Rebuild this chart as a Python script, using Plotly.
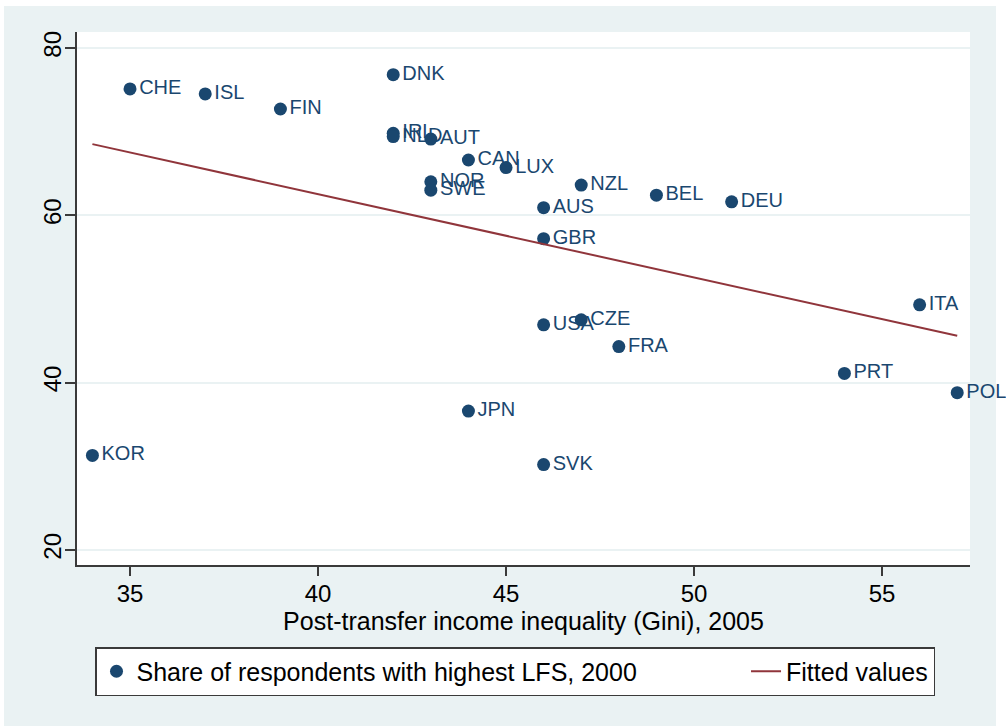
import plotly.graph_objects as go

# Data
countries = ["CHE", "ISL", "FIN", "DNK", "IRL", "NLD", "AUT", "CAN", "LUX", "NOR",
             "SWE", "NZL", "BEL", "DEU", "AUS", "GBR", "ITA", "USA", "CZE", "FRA",
             "PRT", "POL", "JPN", "KOR", "SVK"]
gini = [35, 37, 39, 42, 42, 42, 43, 44, 45, 43,
        43, 47, 49, 51, 46, 46, 56, 46, 47, 48,
        54, 57, 44, 34, 46]
lfs_share = [75.1, 74.5, 72.7, 76.8, 69.8, 69.4, 69.1, 66.6, 65.7, 64.0,
             63.0, 63.6, 62.4, 61.6, 60.9, 57.2, 49.3, 46.9, 47.5, 44.3,
             41.1, 38.8, 36.6, 31.3, 30.2]
fit_x = [34, 57]
fit_y = [68.5, 45.6]

x_ticks = [35, 40, 45, 50, 55]
y_ticks = [20, 40, 60, 80]

NAVY = "#1a476f"
MAROON = "#90353b"
BG = "#eaf2f3"
AXIS = "#3a3a3a"

W, H = 1006, 726
ML, MR, MT, MB = 77, 36, 32, 161
PW = W - ML - MR
PH = H - MT - MB

PAD = "\u00a0" * 15

fig = go.Figure()

fig.add_trace(go.Scatter(
    x=gini, y=lfs_share, mode="markers",
    marker=dict(color=NAVY, size=13),
    name="Share of respondents with highest LFS, 2000" + PAD,
    cliponaxis=False,
))
fig.add_trace(go.Scatter(
    x=fit_x, y=fit_y, mode="lines",
    line=dict(color=MAROON, width=2),
    name="Fitted values",
))
fig.add_trace(go.Scatter(
    x=gini, y=lfs_share, mode="markers+text",
    marker=dict(color="rgba(0,0,0,0)", size=13),
    text=countries, textposition="middle right",
    textfont=dict(color=NAVY, size=20, family="Liberation Sans, Arial, sans-serif"),
    showlegend=False, hoverinfo="skip", cliponaxis=False,
))


def px_to_paper_x(px):
    return (px - ML) / PW


def px_to_paper_y(py):
    return (H - MB - py) / PH


shapes = []
for (x0, x1, y0, y1) in [(0, 4, 0, H), (996, W, 0, H), (0, W, 0, 6)]:
    shapes.append(dict(
        type="rect", xref="paper", yref="paper",
        x0=px_to_paper_x(x0), x1=px_to_paper_x(x1),
        y0=px_to_paper_y(y1), y1=px_to_paper_y(y0),
        fillcolor="white", line=dict(width=0), layer="below",
    ))

fig.update_layout(
    width=W, height=H,
    margin=dict(l=ML, r=MR, t=MT, b=MB, pad=0, autoexpand=False),
    paper_bgcolor=BG, plot_bgcolor="white",
    font=dict(family="Liberation Sans, Arial, sans-serif", color="black"),
    shapes=shapes,
    showlegend=True,
    legend=dict(
        orientation="h",
        x=px_to_paper_x(95), xanchor="left",
        y=px_to_paper_y(647), yanchor="top",
        bgcolor="white", bordercolor=AXIS, borderwidth=1.5,
        font=dict(size=25, color="black"),
        traceorder="normal",
    ),
    xaxis=dict(
        range=[33.59, 57.34], tickvals=x_ticks, automargin=False,
        showgrid=False, zeroline=False,
        showline=True, linecolor=AXIS, linewidth=1.5,
        ticks="outside", ticklen=9, tickwidth=1.5, tickcolor=AXIS,
        tickfont=dict(size=24, color="black"),
        ticklabelstandoff=-3,
        title=dict(text="Post-transfer income inequality (Gini), 2005",
                   font=dict(size=25, color="black"), standoff=2),
    ),
    yaxis=dict(
        range=[18.2, 81.9], tickvals=y_ticks, automargin=False,
        showgrid=True, gridcolor=BG, gridwidth=2, zeroline=False,
        showline=True, linecolor=AXIS, linewidth=1.5,
        ticks="outside", ticklen=10, tickwidth=1.5, tickcolor=AXIS,
        tickangle=-90, ticklabelstandoff=-5,
        tickfont=dict(size=24, color="black"),
    ),
)

fig.write_html(
    "out.html",
    config={"displayModeBar": False},
    post_script="document.body.style.margin='0';document.body.style.overflow='hidden';",
)
